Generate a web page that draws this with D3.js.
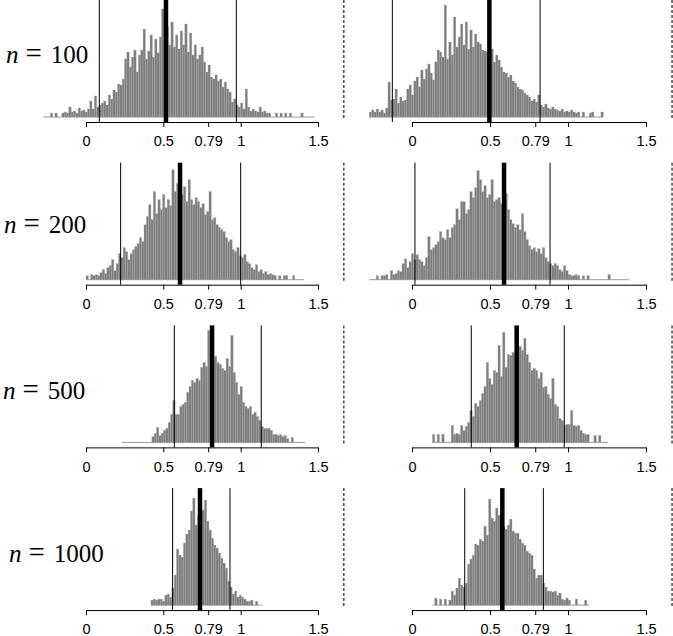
<!DOCTYPE html>
<html>
<head>
<meta charset="utf-8">
<script src="https://cdn.jsdelivr.net/npm/d3@7"></script>
<style>
  html, body { margin: 0; padding: 0; background: #fff; }
  svg { display: block; }
</style>
</head>
<body>
<svg id="chart" width="673" height="636"></svg>
<script>
// ---------------- data ----------------
const sampleSizes = ["100", "200", "500", "1000"];
const tickValues = [0, 0.5, 0.79, 1, 1.5];
const tickLabels = ["0", "0.5", "0.79", "1", "1.5"];
const binWidth = 0.015;
const dashedAt = 1.667;

// histogram start values (left edge of first bin)
const startR1L = -0.276, startR1R = -0.274;
const startR2L = 0.0,    startR2R = -0.274;
const startR3L = 0.231,  startR3R = 0.131;
const startR4L = 0.42,   startR4R = 0.131;

// histogram bar heights
const countsR1L = [0,0,0,4,0,4,0,0,4,5, 4,10,5,6,4,9,6,7,5,8, 16,8,21,10,12,14,16,12,22,18,
  27,25,33,32,38,58,65,50,60,67, 45,62,67,88,58,66,82,60,78,64, 80,108,70,90,72,95,70,82,68,86,
  72,93,65,84,62,72,58,62,70,55, 45,52,40,38,42,36,38,30,35,28, 25,15,18,12,10,14,8,28,10,6,
  8,6,5,10,5,6,4,4,0,0, 4,0,4,0,4,0,4,0,0,0, 0,4,0,0,0,0,0];
const countsR1R = [5,7,5,8,5,7,4,9,35,17, 18,28,14,20,16,17,28,32,22,36, 40,30,47,38,48,53,44,37,55,67,
  65,60,112,58,75,62,100,70,80,93, 72,95,68,87,70,83,75,73,67,66, 65,80,68,55,62,57,50,45,44,40,
  42,36,34,30,28,27,24,22,20,16, 18,15,22,12,10,13,9,8,10,8, 7,6,8,5,6,5,7,5,4,5,
  0,5,0,0,4,5,0,0,0,5];
const countsR2L = [4,0,5,4,5,4,7,10,6,12, 14,20,9,16,26,22,32,28,20,26, 30,33,36,42,38,55,63,75,60,88,
  66,80,70,85,72,80,74,110,88,96, 100,85,93,78,100,80,75,82,78,72, 76,65,68,88,60,62,55,52,50,48,
  42,38,40,30,28,32,24,22,25,18, 16,12,10,15,8,10,6,8,5,6, 5,4,0,4,0,4,4,0,0,4, 0,0,0,0];
const countsR2R = [0,0,0,4,0,4,4,5,0,9, 5,6,9,8,16,21,12,18,26,20, 25,20,18,14,22,43,30,32,35,38,
  48,42,40,50,42,52,55,71,60,78, 78,66,70,88,82,92,109,100,88,94, 82,85,100,78,80,82,76,82,86,70,
  60,56,52,55,50,66,48,40,34,30, 32,28,31,26,32,22,18,16,14,16, 14,10,8,14,9,5,4,4,5,4,
  0,4,0,4,0,0,0,0,0,0, 0,0,5,0,0,0,0,0,0,0,0];
const countsR3L = [0,0,0,0,0,0,0,0,0,0,0,0,0, 6,9,15,7,9,12,14,
  20,28,42,28,28,36,38,40,50,56, 62,60,64,62,75,80,76,112,90,82, 86,80,78,74,72,84,76,107,70,60,
  48,56,40,36,34,36,28,30,26,22, 16,14,14,14,12,8,8,7,8,6, 7,4,0,5,0,0,0,0,0];
const countsR3R = [8,0,8,0,8,0,0,0,17,8, 9,8,17,12,16,20,32,26,39,36, 42,49,56,80,64,58,72,70,97,66,
  110,75,88,87,90,88,95,96,92,104, 88,80,72,74,72,64,70,55,56,48, 44,64,38,36,24,22,17,18,18,32,
  17,16,17,12,9,8,8,0,0,7, 0,7,0,0,0];
const countsR4L = [5,6,5,6,6,4,10,11,8,17, 30,56,50,48,62,71,75,94,107,80, 90,100,95,105,84,75,67,60,57,52,
  47,42,37,24,18,11,14,8,10,8, 6,4,4,5,0,4,0,0];
const countsR4R = [0,7,0,6,0,6,0,5,14,10, 17,27,20,18,22,41,46,50,61,60, 66,64,79,70,106,87,84,97,90,80,
  79,76,80,86,74,72,72,66,62,60, 54,52,50,36,27,30,30,22,18,14, 14,13,14,10,12,6,5,7,5,0,
  0,6,0,0,0,5,0];

// vertical reference lines: [lower, centre, upper]
const linesR1L = [0.086, 0.517, 0.972], linesR1R = [-0.126, 0.496, 0.821];
const linesR2L = [0.224, 0.608, 1.0],   linesR2R = [0.019, 0.590, 0.885];
const linesR3L = [0.571, 0.815, 1.133], linesR3R = [0.380, 0.671, 0.976];
const linesR4L = [0.560, 0.737, 0.931], linesR4R = [0.338, 0.579, 0.842];

// ---------------- layout ----------------
const panels = [
  [{start: startR1L, counts: countsR1L, lines: linesR1L}, {start: startR1R, counts: countsR1R, lines: linesR1R}],
  [{start: startR2L, counts: countsR2L, lines: linesR2L}, {start: startR2R, counts: countsR2R, lines: linesR2R}],
  [{start: startR3L, counts: countsR3L, lines: linesR3L}, {start: startR3R, counts: countsR3R, lines: linesR3R}],
  [{start: startR4L, counts: countsR4L, lines: linesR4L}, {start: startR4R, counts: countsR4R, lines: linesR4R}]
];
const colRanges = [[86, 318], [412, 646]];
const axisY0 = 122, rowStep = 162.7;
const labelX = [6, 4, 3, 9];
const labelUp = [59, 52, 48, 48];

const svg = d3.select("#chart");
svg.append("rect").attr("width", 673).attr("height", 636).attr("fill", "#fff");

panels.forEach((row, r) => {
  const axisY = axisY0 + rowStep * r;
  const base = axisY - 5;
  const y = d3.scaleLinear().domain([0, 115]).range([base, base - 115]);

  // row label  (n = ...)
  const t = svg.append("text")
    .attr("x", labelX[r]).attr("y", axisY - labelUp[r])
    .attr("font-family", "'Liberation Serif', 'DejaVu Serif', serif")
    .attr("font-size", 25).attr("fill", "#000");
  t.append("tspan").attr("font-style", "italic").text("n");
  t.append("tspan").attr("dx", 7).attr("font-size", 29).text("=");
  t.append("tspan").attr("dx", 9).text(sampleSizes[r]);

  row.forEach((p, c) => {
    const x = d3.scaleLinear().domain([0, 1.5]).range(colRanges[c]);
    const g = svg.append("g");
    const last = p.start + p.counts.length * binWidth;

    // baseline of the histogram (empty bins)
    g.append("line")
      .attr("x1", x(p.start)).attr("x2", x(last))
      .attr("y1", y(0)).attr("y2", y(0))
      .attr("stroke", "#9a9a9a").attr("stroke-width", 1);

    // histogram bars
    g.selectAll("rect.bar").data(p.counts).join("rect")
      .attr("class", "bar")
      .attr("x", (d, i) => x(p.start + i * binWidth))
      .attr("width", x(binWidth) - x(0))
      .attr("y", d => y(d))
      .attr("height", d => base - y(d))
      .attr("fill", "#7e7e7e")
      .attr("stroke", "#a8a8a8")
      .attr("stroke-width", 0.35);

    // axis
    const ax = g.append("g").attr("transform", `translate(0,${axisY})`)
      .call(d3.axisBottom(x).tickValues(tickValues)
        .tickFormat((d, i) => tickLabels[i]).tickSize(5).tickSizeOuter(0).tickPadding(9));
    ax.attr("font-family", "'Liberation Sans', Arial, sans-serif").attr("font-size", 14.5);
    ax.selectAll("path, line").attr("stroke", "#000");
    ax.selectAll("text").attr("fill", "#000");

    // vertical lines
    p.lines.forEach((v, k) => {
      g.append("line")
        .attr("x1", x(v)).attr("x2", x(v))
        .attr("y1", axisY - 122).attr("y2", axisY)
        .attr("stroke", "#000")
        .attr("stroke-width", k === 1 ? 4.5 : 1);
    });

    // dashed separator
    g.append("line")
      .attr("x1", x(dashedAt)).attr("x2", x(dashedAt))
      .attr("y1", axisY - 122).attr("y2", axisY - 2)
      .attr("stroke", "#333").attr("stroke-width", 1.3)
      .attr("stroke-dasharray", "3,2");
  });
});
</script>
</body>
</html>
